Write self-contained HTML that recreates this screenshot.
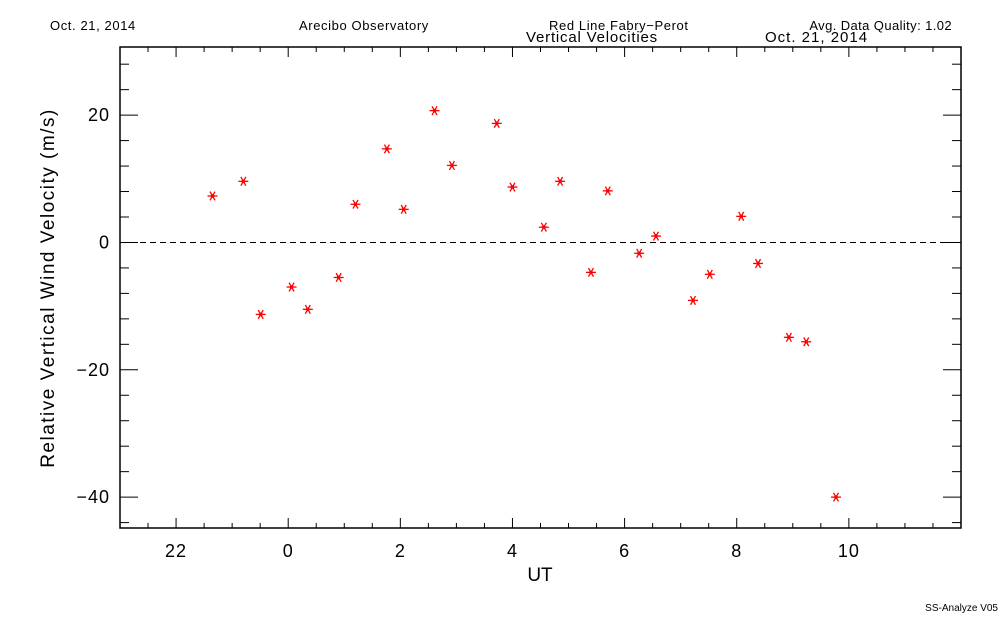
<!DOCTYPE html>
<html><head><meta charset="utf-8"><style>
body{margin:0;background:#fff}
svg text{font-family:"Liberation Sans",sans-serif;fill:#000}
</style></head><body>
<svg id="c" width="1000" height="625">
<text x="50" y="30" font-size="13" letter-spacing="0.6">Oct. 21, 2014</text>
<text x="299" y="30" font-size="13" letter-spacing="0.6">Arecibo Observatory</text>
<text x="549" y="30" font-size="13" letter-spacing="0.6">Red Line Fabry−Perot</text>
<text x="952" y="30" font-size="13" letter-spacing="0.4" text-anchor="end">Avg. Data Quality: 1.02</text>
<text x="592" y="42" font-size="15" letter-spacing="0.8" text-anchor="middle">Vertical Velocities</text>
<text x="765" y="42" font-size="15" letter-spacing="1">Oct. 21, 2014</text>
<text x="0" y="0" font-size="19" letter-spacing="1.5" text-anchor="middle" transform="translate(54,288) rotate(-90)">Relative Vertical Wind Velocity (m/s)</text>
<text x="540" y="581" font-size="19" text-anchor="middle">UT</text>
<text x="998" y="611" font-size="10" text-anchor="end">SS-Analyze V05</text>
</svg>
<script>
const hours=[-1.35,-0.80,-0.49,0.06,0.35,0.90,1.20,1.76,2.06,2.61,2.92,3.72,4.00,4.56,4.85,5.40,5.70,6.26,6.56,7.22,7.52,8.08,8.38,8.93,9.24,9.77];
const velocities=[7.3,9.6,-11.3,-7.0,-10.5,-5.5,6.0,14.7,5.2,20.7,12.1,18.7,8.7,2.4,9.6,-4.7,8.1,-1.7,1.0,-9.1,-5.0,4.1,-3.3,-14.9,-15.6,-40.0];
const xTicks=[-2,0,2,4,6,8,10];
const xTickLabels=["22","0","2","4","6","8","10"];
const yTicks=[20,0,-20,-40];
const yTickLabels=["20","0","−20","−40"];
const NS="http://www.w3.org/2000/svg",svg=document.getElementById('c');
const L=120,R=961,T=47,B=528;
const xMin=-3,xMax=12,yMax=30.7,yMin=-44.85;
const X=v=>L+(v-xMin)/(xMax-xMin)*(R-L);
const Y=v=>T+(yMax-v)/(yMax-yMin)*(B-T);
function mk(t,a){const e=document.createElementNS(NS,t);for(const k in a)e.setAttribute(k,a[k]);svg.appendChild(e);return e;}
const frame=mk('rect',{x:L,y:T,width:R-L,height:B-T,fill:'none',stroke:'#000','stroke-width':1.5});


const zl=mk('line',{x1:L,x2:R,y1:Y(0),y2:Y(0),stroke:'#000','stroke-dasharray':'6,4'});


for(let h=-3;h<=12.001;h+=0.5){const major=Math.abs(h/2-Math.round(h/2))<1e-6;const len=major?10:5;
 mk('line',{x1:X(h),x2:X(h),y1:B,y2:B-len,stroke:'#000'});mk('line',{x1:X(h),x2:X(h),y1:T,y2:T+len,stroke:'#000'});}
for(let v=-44;v<=30;v+=4){const major=v%20===0;const len=major?18:9;
 mk('line',{x1:L,x2:L+len,y1:Y(v),y2:Y(v),stroke:'#000'});mk('line',{x1:R,x2:R-len,y1:Y(v),y2:Y(v),stroke:'#000'});}
xTicks.forEach((t,i)=>{const e=mk('text',{x:X(t),y:557,'font-size':18,'letter-spacing':1,'text-anchor':'middle'});e.textContent=xTickLabels[i];
 
 });
yTicks.forEach((t,i)=>{const e=mk('text',{x:110,y:Y(t)+6,'font-size':18,'letter-spacing':1,'text-anchor':'end'});e.textContent=yTickLabels[i];
 
 });
hours.forEach((h,i)=>{const cx=X(h),cy=Y(velocities[i]);const g=document.createElementNS(NS,'g');svg.appendChild(g);
 
 
 const r=5;[[r,0],[r*0.5,r*0.87],[-r*0.5,r*0.87]].forEach(([dx,dy])=>{const l=document.createElementNS(NS,'line');
 l.setAttribute('x1',cx-dx);l.setAttribute('x2',cx+dx);l.setAttribute('y1',cy-dy);l.setAttribute('y2',cy+dy);l.setAttribute('stroke','#f00');l.setAttribute('stroke-width',1.3);g.appendChild(l);});
 const c=document.createElementNS(NS,'circle');c.setAttribute('cx',cx);c.setAttribute('cy',cy);c.setAttribute('r',1.8);c.setAttribute('fill','#f00');g.appendChild(c);});
</script>
</body></html>
